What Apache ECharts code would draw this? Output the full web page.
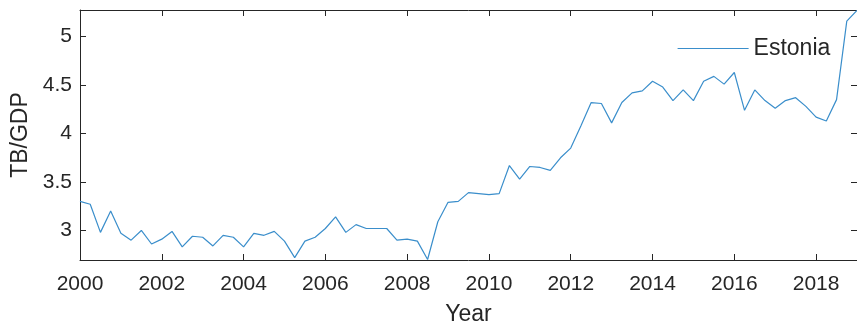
<!DOCTYPE html>
<html>
<head>
<meta charset="utf-8">
<script src="https://cdn.jsdelivr.net/npm/echarts@6/dist/echarts.min.js"></script>
<style>
  html, body { margin: 0; padding: 0; background: #ffffff; }
  #chart { width: 857px; height: 331px; }
</style>
</head>
<body>
<div id="chart"></div>
<script>
// Quarterly trade balance relative to GDP, Estonia, 2000Q1 .. 2019Q1
const seriesName = 'Estonia';
const startYear = 2000;          // first observation (quarterly steps after it)
const tbGdp = [
  3.30, 3.27, 2.98, 3.20,   // 2000
  2.97, 2.90, 3.00, 2.86,   // 2001
  2.91, 2.99, 2.83, 2.94,   // 2002
  2.93, 2.84, 2.95, 2.93,   // 2003
  2.83, 2.97, 2.95, 2.99,   // 2004
  2.89, 2.72, 2.89, 2.93,   // 2005
  3.02, 3.14, 2.98, 3.06,   // 2006
  3.02, 3.02, 3.02, 2.90,   // 2007
  2.91, 2.89, 2.70, 3.09,   // 2008
  3.29, 3.30, 3.39, 3.38,   // 2009
  3.37, 3.38, 3.67, 3.53,   // 2010
  3.66, 3.65, 3.62, 3.75,   // 2011
  3.85, 4.08, 4.32, 4.31,   // 2012
  4.11, 4.32, 4.42, 4.44,   // 2013
  4.54, 4.48, 4.34, 4.45,   // 2014
  4.34, 4.54, 4.59, 4.51,   // 2015
  4.63, 4.24, 4.45, 4.34,   // 2016
  4.26, 4.34, 4.37, 4.28,   // 2017
  4.17, 4.13, 4.35, 5.16,   // 2018
  5.27                      // 2019
];

// Axis ranges
const xMin = 2000, xMax = 2019, xStep = 2;
const yMin = 2.695, yMax = 5.275;

const ink = '#262626';
const lineColor = '#3a8ecb';
const fontFamily = '"Liberation Sans", Arial, Helvetica, sans-serif';

const points = tbGdp.map((v, i) => [startYear + i / 4, v]);

const frameLine = { show: true, onZero: false, lineStyle: { color: ink, width: 1 } };
const innerTick = { show: true, inside: true, length: 6, lineStyle: { color: ink, width: 1 } };

const chart = echarts.init(document.getElementById('chart'), null, { renderer: 'canvas' });
chart.setOption({
  animation: false,
  backgroundColor: '#ffffff',
  textStyle: { fontFamily: fontFamily },
  grid: { left: 80, top: 10, right: -4, bottom: 69, containLabel: false },
  legend: {
    data: [seriesName],
    left: 677,
    top: 37,
    padding: 0,
    itemWidth: 71,
    itemHeight: 14,
    // line-only key: hide the marker dot
    itemStyle: { color: 'transparent', borderColor: 'transparent', borderWidth: 0, opacity: 0 },
    lineStyle: { color: lineColor, width: 1.2 },
    textStyle: { fontSize: 23, color: ink, fontFamily: fontFamily }
  },
  xAxis: [
    {
      type: 'value', position: 'bottom', min: xMin, max: xMax, interval: xStep,
      axisLine: frameLine, axisTick: innerTick, splitLine: { show: false },
      axisLabel: {
        color: ink, fontSize: 21, margin: 14, fontFamily: fontFamily,
        showMaxLabel: false, formatter: v => String(v)
      },
      name: 'Year', nameLocation: 'middle', nameGap: 43,
      nameTextStyle: { fontSize: 23, color: ink, fontFamily: fontFamily }
    },
    {
      type: 'value', position: 'top', min: xMin, max: xMax, interval: xStep,
      axisLine: frameLine, axisTick: innerTick, splitLine: { show: false },
      axisLabel: { show: false }
    }
  ],
  yAxis: [
    {
      type: 'value', position: 'left', min: yMin, max: yMax, splitNumber: 5,
      axisLine: frameLine, axisTick: innerTick, splitLine: { show: false },
      axisLabel: {
        color: ink, fontSize: 21, margin: 8, fontFamily: fontFamily,
        showMinLabel: false, showMaxLabel: false
      },
      name: 'TB/GDP', nameLocation: 'middle', nameGap: 39,
      nameTextStyle: { fontSize: 23, color: ink, fontFamily: fontFamily }
    },
    {
      type: 'value', position: 'right', min: yMin, max: yMax, splitNumber: 5,
      axisLine: frameLine, axisTick: innerTick, splitLine: { show: false },
      axisLabel: { show: false }
    }
  ],
  series: [
    {
      name: seriesName,
      type: 'line',
      xAxisIndex: 0,
      yAxisIndex: 0,
      data: points,
      symbol: 'none',
      clip: true,
      lineStyle: { color: lineColor, width: 1.2 },
      itemStyle: { color: lineColor }
    }
  ]
});
</script>
</body>
</html>
